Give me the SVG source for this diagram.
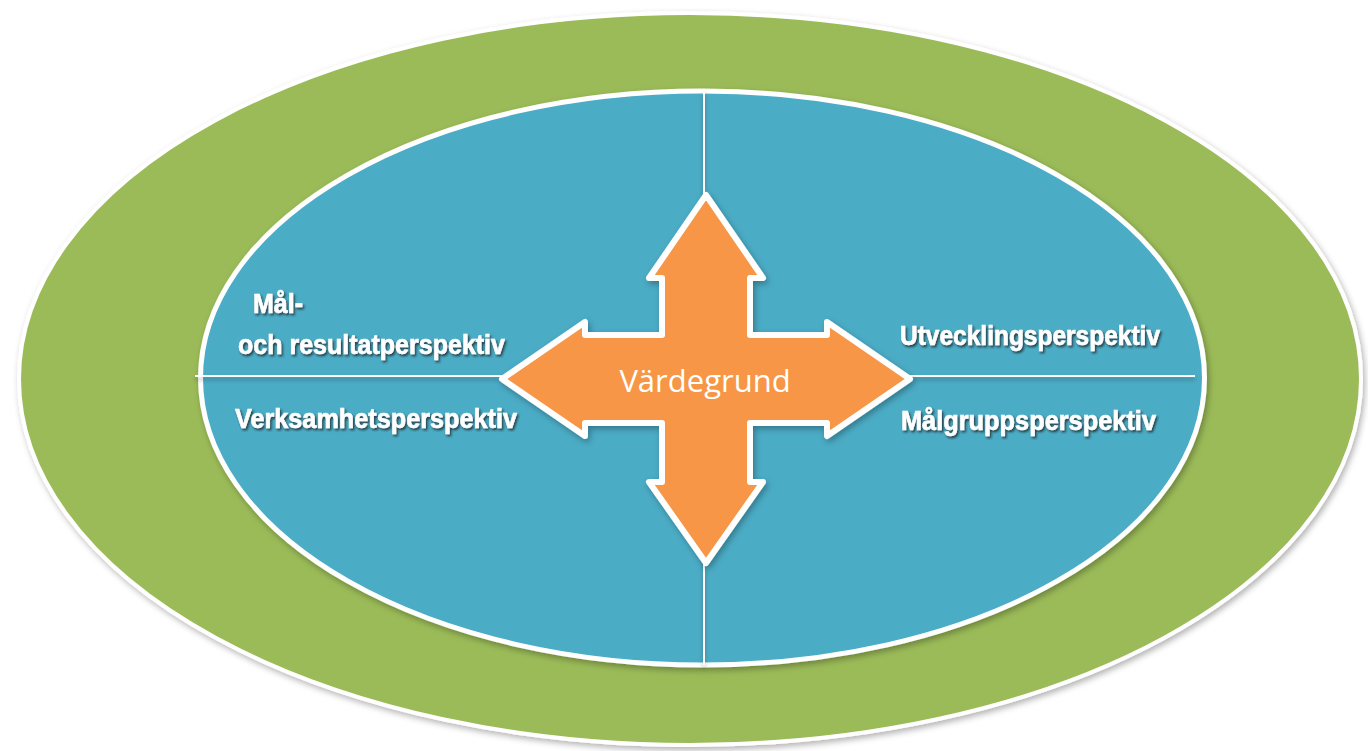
<svg xmlns="http://www.w3.org/2000/svg" width="1368" height="751" viewBox="0 0 1368 751">
<defs>
<filter id="shadow" x="-10%" y="-10%" width="120%" height="120%">
<feDropShadow dx="2" dy="3" stdDeviation="3" flood-color="#000" flood-opacity="0.3"/>
</filter>
<filter id="lineShadow" x="-5%" y="-200%" width="110%" height="500%">
<feDropShadow dx="0" dy="3" stdDeviation="2" flood-color="#000" flood-opacity="0.3"/>
</filter>
<filter id="textShadow" x="-10%" y="-30%" width="120%" height="160%">
<feDropShadow dx="1.5" dy="2" stdDeviation="1" flood-color="#1a1a1a" flood-opacity="0.75"/>
</filter>
<style>
.outer{fill:#9BBB59;stroke:#ffffff;stroke-width:4}
.inner{fill:#4BACC6;stroke:#ffffff;stroke-width:5}
.divider{stroke:#ffffff;stroke-width:2;fill:none}
.cross{fill:#F79646;stroke:#ffffff;stroke-width:6;stroke-linejoin:round}
.center{font-family:"Open Sans","Liberation Sans",sans-serif;font-size:31px;fill:#ffffff;text-anchor:middle}
.label{font-family:"Liberation Sans","Arial",sans-serif;font-weight:bold;font-size:27px;fill:#ffffff;stroke:#ffffff;stroke-width:0.6}
</style>
</defs>
<rect width="1368" height="751" fill="#ffffff"/>
<g id="outer-ring" filter="url(#shadow)">
<ellipse class="outer" cx="690" cy="379" rx="671" ry="366"/>
</g>
<g id="inner-field" filter="url(#shadow)">
<ellipse class="inner" cx="702.5" cy="378" rx="502" ry="287"/>
</g>
<g id="connectors" filter="url(#lineShadow)">
<line class="divider" x1="704" y1="92" x2="704" y2="665"/>
<line class="divider" x1="195" y1="376" x2="1195" y2="376"/>
</g>
<g id="vardegrund">
<path class="cross" filter="url(#shadow)" d="M706,195 L763,278 L750,278 L750,335 L827,335 L827,322 L910,379 L827,436 L827,423 L750,423 L750,482 L763,482 L706,563 L649,482 L662,482 L662,423 L585,423 L585,436 L502,379 L585,322 L585,335 L662,335 L662,278 L649,278 Z"/>
<text class="center" x="705" y="392">Värdegrund</text>
</g>
<g id="mal-resultat" filter="url(#textShadow)">
<text class="label" x="253" y="313" textLength="50" lengthAdjust="spacingAndGlyphs">Mål-</text>
<text class="label" x="238" y="354" textLength="267" lengthAdjust="spacingAndGlyphs">och resultatperspektiv</text>
</g>
<g id="verksamhet" filter="url(#textShadow)">
<text class="label" x="235" y="428" textLength="282" lengthAdjust="spacingAndGlyphs">Verksamhetsperspektiv</text>
</g>
<g id="utveckling" filter="url(#textShadow)">
<text class="label" x="900" y="345" textLength="260" lengthAdjust="spacingAndGlyphs">Utvecklingsperspektiv</text>
</g>
<g id="malgrupp" filter="url(#textShadow)">
<text class="label" x="901" y="430" textLength="255" lengthAdjust="spacingAndGlyphs">Målgruppsperspektiv</text>
</g>
</svg>
